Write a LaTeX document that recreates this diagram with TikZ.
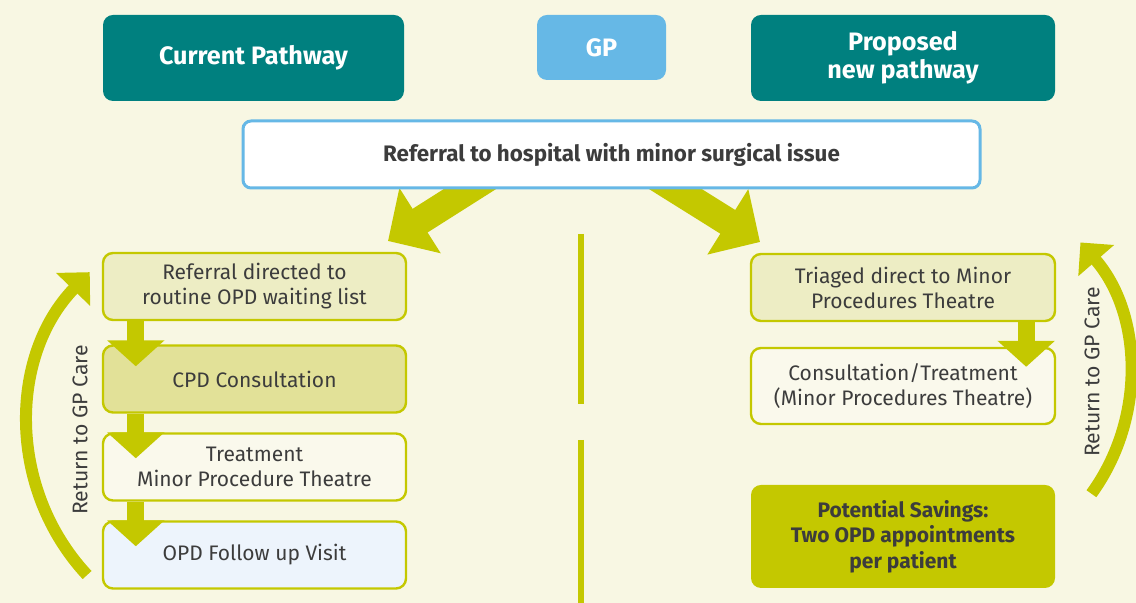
\documentclass[tikz,border=0pt]{standalone}
\usepackage{fontspec}
\setmainfont{Fira Sans}
\usepackage{xcolor}
\usetikzlibrary{arrows.meta,positioning,backgrounds}
\definecolor{paper}{HTML}{F8F7E3}
\definecolor{ink}{HTML}{3C3C3C}
\definecolor{teal}{HTML}{00807F}
\definecolor{sky}{HTML}{66B8E6}
\definecolor{lime}{HTML}{C4C800}
\definecolor{limepale}{HTML}{EDEDC4}
\definecolor{limemid}{HTML}{E2E198}
\definecolor{cream}{HTML}{FAF9EC}
\definecolor{icepale}{HTML}{EDF4FC}
\tikzset{
  header/.style={rounded corners=5pt,fill=teal,text=white,align=center,
    font=\bfseries\fontsize{12.6}{14}\selectfont,minimum height=43pt,inner sep=2pt},
  gpbox/.style={rounded corners=5pt,fill=sky,text=white,
    font=\bfseries\fontsize{12.6}{14}\selectfont,minimum width=64.5pt,minimum height=32.5pt},
  referral/.style={draw=sky,line width=1.5pt,rounded corners=4pt,fill=white,text=ink,
    font=\bfseries\fontsize{11.2}{13}\selectfont,minimum width=368.5pt,minimum height=33.5pt},
  stage/.style={draw=lime,line width=1.2pt,rounded corners=5pt,align=center,text=ink,
    font=\fontsize{10.5}{12.5}\selectfont,minimum width=151.5pt,minimum height=33.5pt,inner sep=2pt},
  saving/.style={rounded corners=5pt,fill=lime,align=center,text=ink,
    font=\bfseries\fontsize{10.5}{12.75}\selectfont,minimum width=152pt,minimum height=51.5pt},
  dropflow/.style={line width=8.5pt,color=lime,-{Triangle[length=13pt,width=28pt]}},
  splitflow/.style={line width=14pt,color=lime,-{Triangle[length=19pt,width=37.5pt]}},
  loopflow/.style={line width=6pt,color=lime,-{Triangle[length=12pt,width=23pt]}},
  divider/.style={line width=3pt,color=lime},
  sidelabel/.style={rotate=90,text=ink,font=\fontsize{10.6}{12}\selectfont},
}

\begin{document}
\begin{tikzpicture}[x=0.5pt,y=0.5pt]
  \useasboundingbox (0,0) rectangle (1136,603);
  \begin{scope}[on background layer]
    \fill[paper] (0,0) rectangle (1136,603);
  \end{scope}

  % headings
  \node[header,minimum width=150.5pt] (cur) at (253.5,545) {Current Pathway};
  \node[gpbox] (gp) at (601.5,555.5) {GP};
  \node[header,minimum width=152pt] (prop) at (903,545) {Proposed\\new pathway};
  \node[referral] (ref) at (611.5,448.5) {Referral to hospital with minor surgical issue};

  % current pathway
  \node[stage,fill=limepale] (b1) at (254.5,316.5) {Referral directed to\\routine OPD waiting list};
  \node[stage,fill=limemid] (b2) at (254.5,224) {CPD Consultation};
  \node[stage,fill=cream] (b3) at (254.5,136) {Treatment\\Minor Procedure Theatre};
  \node[stage,fill=icepale] (b4) at (254.5,48) {OPD Follow up Visit};

  % proposed pathway
  \node[stage,fill=limepale,minimum width=152pt] (r1) at (903,315.5) {Triaged direct to Minor\\Procedures Theatre};
  \node[stage,fill=cream,minimum width=152pt,minimum height=38pt] (r2) at (903,217) {Consultation/Treatment\\(Minor Procedures Theatre)};
  \node[saving] (r3) at (903,66.5) {Potential Savings:\\Two OPD appointments\\per patient};

  % split from the referral
  \coordinate (ltip) at (388,362);
  \coordinate (rtip) at (760,361);
  \begin{scope}[on background layer]
    \draw[splitflow] ([xshift=126.5pt,yshift=8pt]ref.south west) -- (ltip);
    \draw[splitflow] ([xshift=204.5pt,yshift=8pt]ref.south west) -- (rtip);
  \end{scope}

  % steps
  \draw[dropflow] ([xshift=17pt]b1.south west) -- ([xshift=17pt,yshift=-11pt]b2.north west);
  \draw[dropflow] ([xshift=17pt]b2.south west) -- ([xshift=17pt,yshift=-13pt]b3.north west);
  \draw[dropflow] ([xshift=17pt]b3.south west) -- ([xshift=17pt,yshift=-13pt]b4.north west);
  \draw[dropflow] ([xshift=-15pt]r1.south east) -- ([xshift=-15pt,yshift=-10pt]r2.north east);

  % divider
  \draw[divider] (581,369) -- (581,199);
  \draw[divider] (581,163) -- (581,0);

  % back to the GP
  \coordinate (lcen) at (248,178);
  \coordinate (rcen) at (928,228);
  \draw[loopflow] ([shift={(223:110pt)}]lcen) arc[start angle=223,end angle=136,radius=110pt];
  \draw[loopflow] ([shift={(-36:101pt)}]rcen) arc[start angle=-36,end angle=41,radius=101pt];
  \node[sidelabel] (lret) at (80,173) {Return to GP Care};
  \node[sidelabel] (rret) at (1092,231) {Return to GP Care};
\end{tikzpicture}
\end{document}
